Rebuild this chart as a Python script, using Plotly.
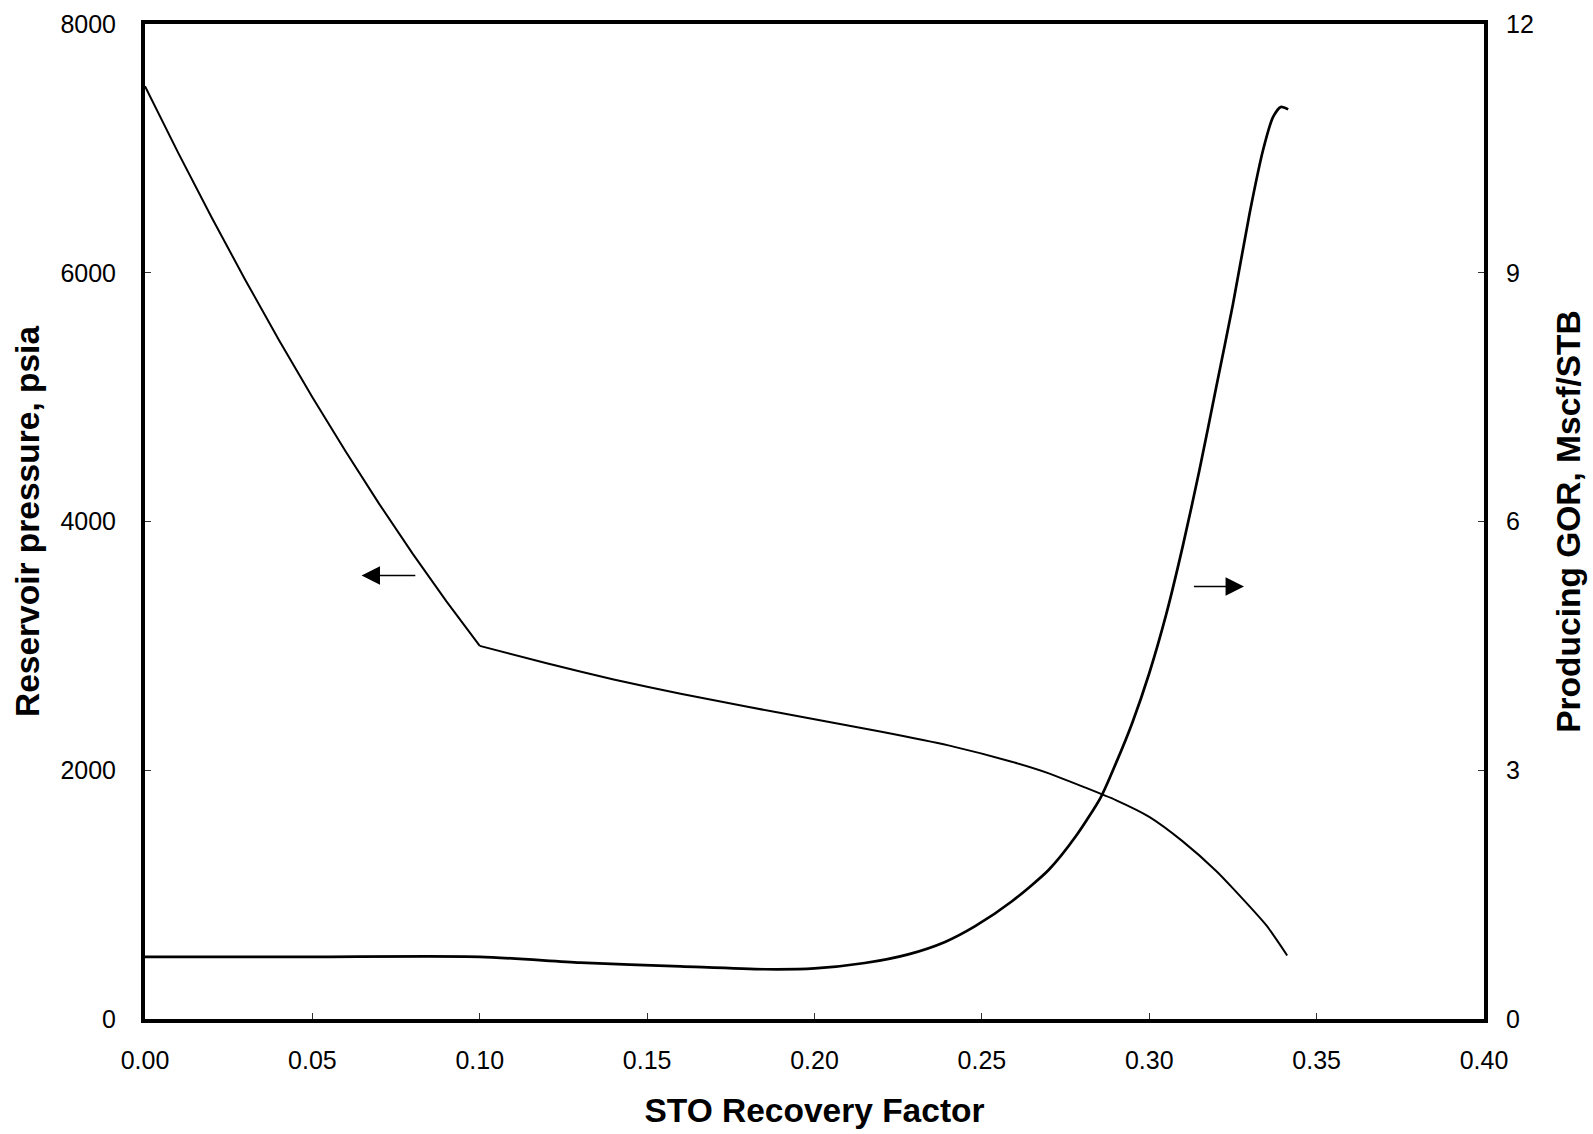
import plotly.graph_objects as go

# STO recovery factor vs reservoir pressure (left axis)
# above bubble point (undersaturated depletion)
rf_pressure_upper = [0.0, 0.01, 0.02, 0.03, 0.04, 0.05, 0.06, 0.07, 0.08, 0.09, 0.10]
pressure_upper_psia = [7500, 6960, 6440, 5940, 5460, 5000, 4560, 4140, 3740, 3360, 3000]
# below bubble point (solution gas drive)
rf_pressure_lower = [0.10, 0.12, 0.14, 0.16, 0.18, 0.20, 0.22, 0.24, 0.26, 0.27, 0.28,
                     0.29, 0.30, 0.31, 0.32, 0.325, 0.335, 0.3412]
pressure_lower_psia = [3000, 2860, 2730, 2615, 2510, 2410, 2310, 2200, 2060, 1975, 1870,
                       1760, 1625, 1428, 1190, 1050, 752, 511]

# STO recovery factor vs producing GOR (right axis)
rf_gor = [0.0, 0.05, 0.10, 0.13, 0.16, 0.185, 0.20, 0.215, 0.228, 0.239, 0.248, 0.259,
          0.270, 0.278, 0.2856, 0.290, 0.295, 0.300, 0.305, 0.310, 0.315, 0.320,
          0.325, 0.330, 0.334, 0.337, 0.3393, 0.3415]
gor_mscf_stb = [0.75, 0.75, 0.75, 0.68, 0.635, 0.60, 0.61, 0.675, 0.78, 0.93, 1.12, 1.42,
                1.80, 2.20, 2.68, 3.08, 3.58, 4.17, 4.87, 5.70, 6.62, 7.62,
                8.62, 9.72, 10.48, 10.88, 11.00, 10.97]

x_ticks = [0.0, 0.05, 0.10, 0.15, 0.20, 0.25, 0.30, 0.35, 0.40]
y_ticks = [0, 2000, 4000, 6000, 8000]
y2_ticks = [0, 3, 6, 9, 12]

FONT = "Arial, Liberation Sans, sans-serif"

fig = go.Figure()
fig.add_trace(go.Scatter(x=rf_pressure_upper, y=pressure_upper_psia, mode="lines",
                         line=dict(color="black", width=2), showlegend=False))
fig.add_trace(go.Scatter(x=rf_pressure_lower, y=pressure_lower_psia, mode="lines",
                         line=dict(color="black", width=2, shape="spline", smoothing=0.6),
                         showlegend=False))
fig.add_trace(go.Scatter(x=rf_gor, y=gor_mscf_stb, mode="lines", yaxis="y2",
                         line=dict(color="black", width=2.7, shape="spline", smoothing=0.7),
                         showlegend=False))

# arrows indicating which axis each curve belongs to
fig.add_annotation(x=0.0647, y=3566, ax=0.0812, ay=3566, xref="x", yref="y",
                   axref="x", ayref="y", text="", showarrow=True, arrowhead=2,
                   arrowsize=2.3, arrowwidth=1.6, arrowcolor="black", standoff=0)
fig.add_annotation(x=0.3283, y=3477, ax=0.3129, ay=3477, xref="x", yref="y",
                   axref="x", ayref="y", text="", showarrow=True, arrowhead=2,
                   arrowsize=2.3, arrowwidth=1.6, arrowcolor="black", standoff=0)

axis_common = dict(showgrid=False, zeroline=False, showline=True, linecolor="black",
                   linewidth=4, ticks="inside", ticklen=6, tickwidth=1,
                   tickcolor="#333", tickfont=dict(family=FONT, size=25, color="black"))

fig.update_layout(
    width=1593, height=1134,
    paper_bgcolor="white", plot_bgcolor="white",
    margin=dict(l=145, r=109, t=24, b=115, autoexpand=False),
    xaxis=dict(range=[0, 0.4], tickvals=x_ticks, tickformat=".2f", mirror=True,
               ticklabelstandoff=16,
               title=dict(text="<b>STO Recovery Factor</b>", standoff=27,
                          font=dict(family=FONT, size=33.5, color="black")),
               **axis_common),
    yaxis=dict(range=[0, 8000], tickvals=y_ticks, ticklabelstandoff=20,
               title=dict(text="<b>Reservoir pressure, psia</b>", standoff=12,
                          font=dict(family=FONT, size=33.5, color="black")),
               **axis_common),
    yaxis2=dict(range=[0, 12], tickvals=y2_ticks, overlaying="y", side="right",
                ticklabelstandoff=13,
                title=dict(text="<b>Producing GOR, Mscf/STB</b>", standoff=25,
                           font=dict(family=FONT, size=33.5, color="black")),
                **axis_common),
)

fig.write_html("out.html")
